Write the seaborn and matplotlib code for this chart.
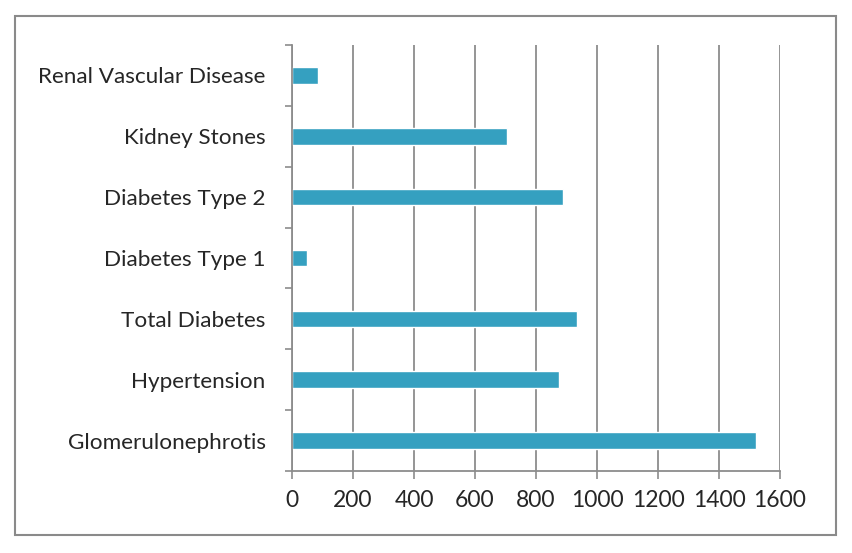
import matplotlib
matplotlib.use("Agg")
import matplotlib.pyplot as plt
import seaborn as sns
import pandas as pd
from matplotlib.patches import Rectangle

categories = ["Renal Vascular Disease", "Kidney Stones", "Diabetes Type 2",
              "Diabetes Type 1", "Total Diabetes", "Hypertension", "Glomerulonephrotis"]
values = [85, 705, 890, 50, 935, 875, 1520]
xticks = [0, 200, 400, 600, 800, 1000, 1200, 1400, 1600]

sns.set_theme(style="white")
plt.rcParams['font.family'] = ['Lato', 'DejaVu Sans']

df = pd.DataFrame({"cat": categories, "val": values})

fig = plt.figure(figsize=(8.53, 5.53), dpi=100)
ax = fig.add_axes([292/853, 1-471/553, (780-292)/853, (471-45)/553])

sns.barplot(data=df, y="cat", x="val", color="#35a0c0", width=0.27,
            saturation=1, ax=ax, orient="h")

ax.set_xlim(0, 1600)
ax.set_ylim(len(categories)-0.5, -0.5)
ax.set_xticks(xticks)
ax.set_xticklabels([str(t) for t in xticks])
ax.set_xlabel("")
ax.set_ylabel("")
ax.grid(axis="x", color="#8c8c8c", linewidth=1.3)
ax.grid(axis="y", visible=False)
ax.set_axisbelow(True)

for s in ["top", "right"]:
    ax.spines[s].set_visible(False)
for s in ["left", "bottom"]:
    ax.spines[s].set_color("#8c8c8c")
    ax.spines[s].set_linewidth(1.3)

ax.set_yticks([i - 0.5 for i in range(len(categories)+1)], minor=True)
ax.tick_params(axis="y", which="major", length=0, pad=19, labelsize=16.2, labelcolor="#262626")
ax.tick_params(axis="y", which="minor", length=5, width=1.2, color="#8c8c8c", direction="out", left=True)
ax.tick_params(axis="x", which="major", length=6, width=1.2, color="#8c8c8c", direction="out",
               bottom=True, pad=8, labelsize=16.5, labelcolor="#262626")

fig.patches.append(Rectangle((15/853, 1-535/553), (836-15)/853, (535-16)/553,
                             transform=fig.transFigure, fill=False,
                             edgecolor="#8a8a8a", linewidth=1.5))

fig.savefig("out.png", dpi=100)
